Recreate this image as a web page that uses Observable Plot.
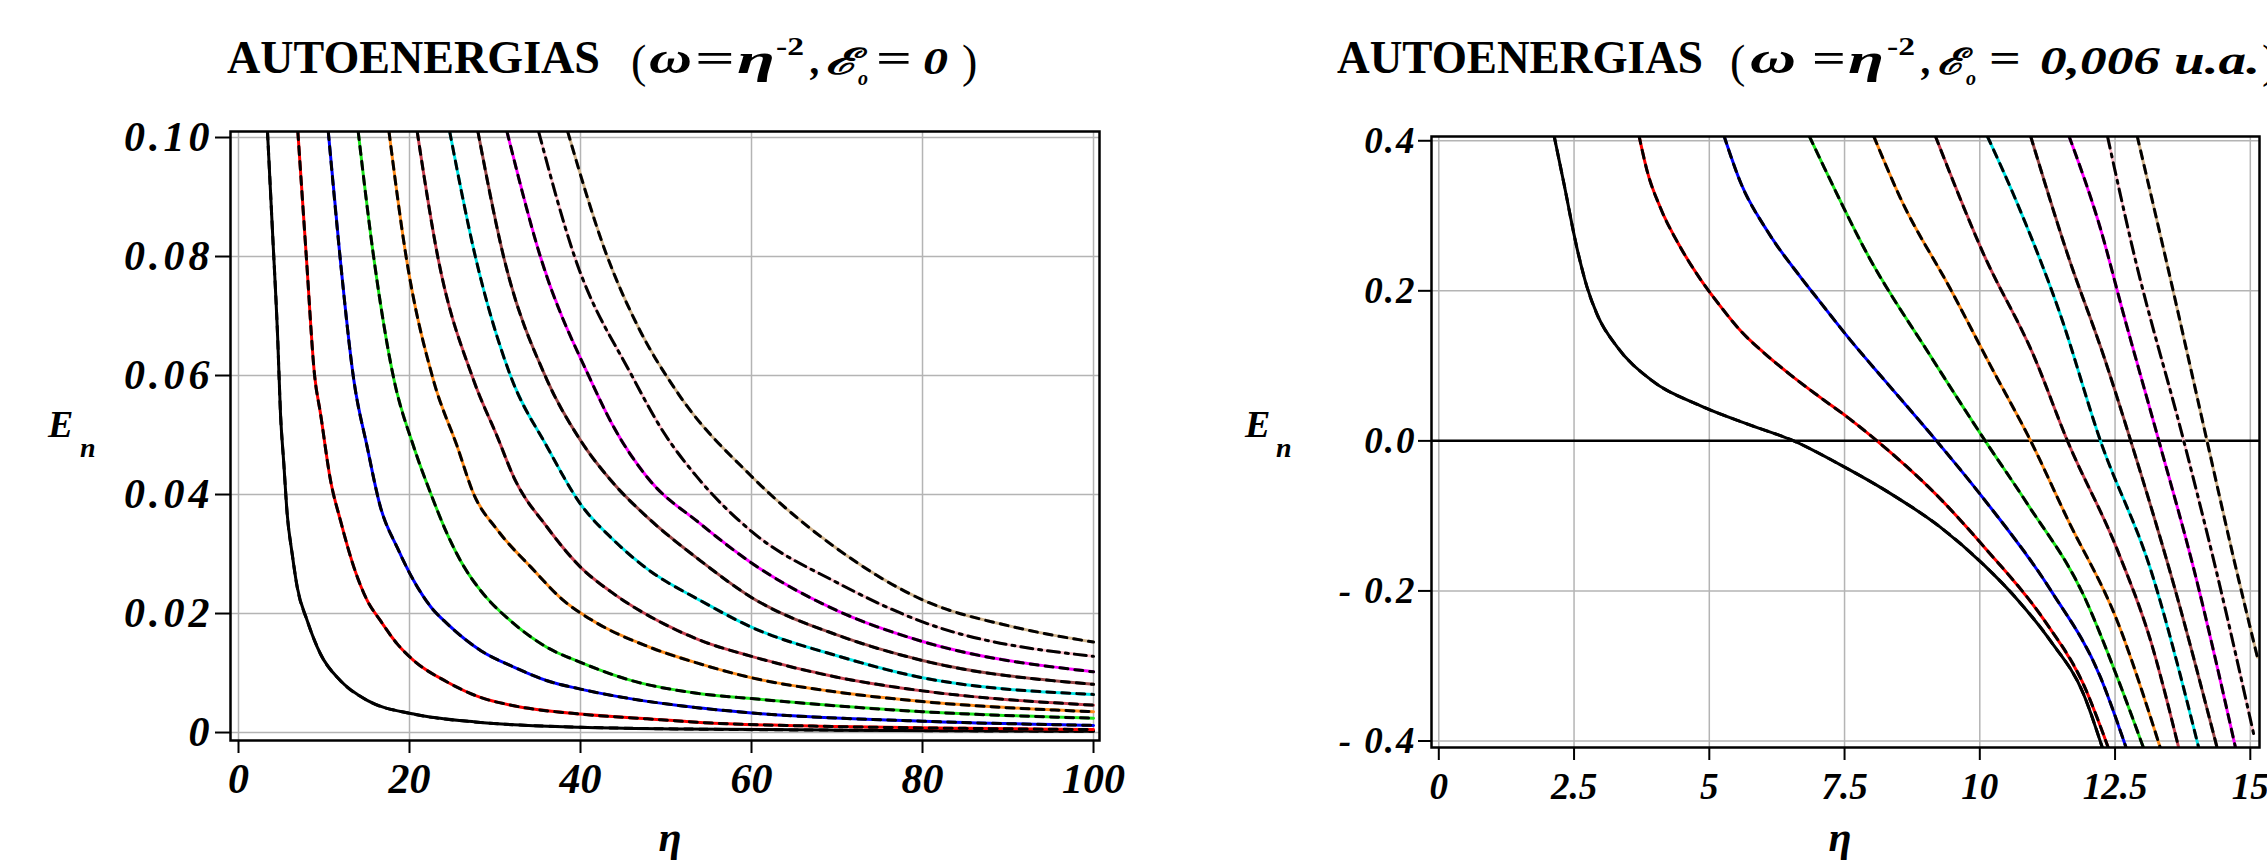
<!DOCTYPE html>
<html>
<head>
<meta charset="utf-8">
<script src="https://cdn.jsdelivr.net/npm/d3@7"></script>
<script src="https://cdn.jsdelivr.net/npm/@observablehq/plot@0.6"></script>
<style>
  html, body { margin: 0; padding: 0; background: #ffffff; }
  #page { position: relative; width: 2267px; height: 863px; overflow: hidden; background: #ffffff; }
  #page > svg { position: absolute; top: 0; }
</style>
</head>
<body>
<div id="page"></div>
<script>
// ---------------- DATA ----------------
// Left panel: E_n vs eta, omega = eta^-2, field = 0
const leftXTicks  = [0, 20, 40, 60, 80, 100];
const leftXLabels = ["0", "20", "40", "60", "80", "100"];
const leftYTicks  = [0, 0.02, 0.04, 0.06, 0.08, 0.10];
const leftYLabels = ["0", "0.02", "0.04", "0.06", "0.08", "0.10"];

const leftN1  = [[3.39,0.101],[3.99,0.0838],[4.58,0.0664],[4.91,0.0536],[5.30,0.0452],[5.69,0.0368],[6.28,0.030],[6.87,0.0244],[8.04,0.0188],[9.59,0.0132],[11.93,0.0087],[15.05,0.0054],[20.5,0.0031],[28.3,0.0017],[40,0.0009],[51.7,0.0006],[70,0.0004],[100,0.0002]];
const leftN2  = [[6.94,0.101],[7.93,0.08],[8.9,0.06],[9.59,0.0536],[10.76,0.0424],[11.93,0.0356],[13.49,0.0278],[15.05,0.0222],[16.6,0.0188],[18.56,0.0149],[20.5,0.0121],[24.4,0.0085],[28.3,0.0059],[32.2,0.0045],[40,0.0031],[47.8,0.0023],[54,0.0017],[70,0.0010],[85,0.0007],[100,0.0005]];
const leftN3  = [[10.5,0.101],[11.87,0.08],[13.49,0.0592],[15.05,0.048],[16.6,0.0379],[18.56,0.0311],[20.5,0.0255],[22.5,0.0211],[24.4,0.0183],[28.3,0.0138],[32.2,0.011],[36.1,0.0087],[40,0.0073],[45.8,0.0057],[51.7,0.0045],[60,0.0033],[80,0.0019],[100,0.0012]];
const leftN4  = [[14.0,0.101],[15.8,0.08],[18.2,0.0592],[20.5,0.048],[22.5,0.0401],[24.4,0.0334],[26.4,0.0278],[28.3,0.0239],[32.2,0.0183],[36.1,0.0143],[40,0.0118],[45.8,0.0088],[53.6,0.0066],[60,0.0057],[80,0.0035],[100,0.0024]];
const leftN5  = [[17.6,0.101],[19.6,0.08],[22.8,0.0592],[25.6,0.048],[27.5,0.0401],[30.3,0.034],[34.2,0.0278],[38,0.0222],[41.9,0.0184],[47.8,0.0145],[53.6,0.0117],[60,0.0092],[70,0.0068],[80,0.0052],[100,0.0035]];
const leftN6  = [[20.9,0.101],[23.3,0.08],[27.5,0.0592],[30.3,0.0496],[32.2,0.0429],[36.1,0.0345],[40,0.0278],[43.9,0.0233],[49.7,0.0183],[54,0.0155],[60,0.0128],[70,0.0093],[80,0.0070],[100,0.0046]];
const leftN7  = [[24.7,0.101],[27.7,0.08],[31.8,0.06],[36.1,0.048],[40,0.0384],[43.9,0.0323],[47.8,0.0275],[54,0.0222],[60,0.0177],[70,0.0129],[80,0.0092],[100,0.0064]];
const leftN8  = [[28.0,0.101],[31.0,0.08],[36.1,0.0592],[40,0.0491],[43.9,0.0418],[47.8,0.0362],[54,0.0289],[60,0.0227],[70,0.0164],[80,0.0121],[100,0.0081]];
const leftN9  = [[31.4,0.101],[35.3,0.08],[41.2,0.0592],[43.9,0.0513],[47.8,0.0429],[54,0.0351],[60,0.0285],[70,0.0205],[80,0.0153],[100,0.0102]];
const leftN10 = [[35.1,0.101],[39.3,0.08],[46.0,0.06],[49.7,0.0505],[53.6,0.043],[60,0.0338],[70,0.0252],[80,0.0186],[100,0.0128]];
const leftN11 = [[38.5,0.101],[43.1,0.0801],[46.8,0.068],[51.5,0.0568],[59.9,0.0432],[69.9,0.031],[80,0.0223],[90.8,0.0177],[100,0.0152]];

// Right panel: E_n vs eta, omega = eta^-2, field = 0,006 u.a.
const rightXTicks  = [0, 2.5, 5, 7.5, 10, 12.5, 15];
const rightXLabels = ["0", "2.5", "5", "7.5", "10", "12.5", "15"];
const rightYTicks  = [-0.4, -0.2, 0, 0.2, 0.4];
const rightYLabels = ["- 0.4", "- 0.2", "0.0", "0.2", "0.4"];

const rightN1  = [[2.13,0.407],[2.31,0.344],[2.56,0.255],[2.74,0.205],[2.93,0.168],[3.30,0.125],[3.91,0.082],[4.83,0.047],[5.76,0.021],[6.56,0.0],[7.4,-0.031],[8.3,-0.068],[9.27,-0.115],[10.07,-0.165],[10.7,-0.212],[11.3,-0.266],[11.92,-0.338],[12.27,-0.41]];
const rightN2  = [[3.70,0.407],[3.85,0.36],[4.10,0.31],[4.45,0.26],[4.84,0.215],[5.2,0.18],[5.6,0.145],[6.0,0.118],[6.5,0.088],[7.05,0.058],[7.6,0.029],[8.1,0.0],[9.2,-0.072],[10.1,-0.143],[11.2,-0.24],[11.9,-0.322],[12.38,-0.41]];
const rightN3  = [[5.27,0.407],[5.58,0.344],[6.07,0.28],[6.69,0.218],[7.05,0.185],[7.6,0.135],[8.25,0.08],[9.2,0.0],[10.07,-0.077],[11.31,-0.199],[12.23,-0.315],[12.71,-0.41]];
const rightN4  = [[6.85,0.406],[7.12,0.365],[7.92,0.249],[9.09,0.113],[10.1,0.0],[10.88,-0.084],[11.92,-0.206],[12.54,-0.315],[13.03,-0.41]];
const rightN5  = [[8.04,0.406],[8.53,0.324],[9.46,0.202],[10.2,0.1],[10.94,0.0],[11.62,-0.104],[12.54,-0.240],[13.34,-0.41]];
const rightN6  = [[9.18,0.406],[10.07,0.249],[11.0,0.113],[11.62,0.0],[12.54,-0.145],[13.16,-0.267],[13.68,-0.41]];
const rightN7  = [[10.14,0.406],[10.69,0.317],[11.49,0.168],[12.23,0.0],[13.16,-0.172],[14.05,-0.41]];
const rightN8  = [[10.94,0.406],[11.62,0.249],[12.29,0.113],[12.79,0.0],[13.59,-0.193],[14.39,-0.41]];
const rightN9  = [[11.65,0.406],[12.23,0.283],[12.66,0.168],[13.31,0.0],[13.96,-0.172],[14.73,-0.41]];
const rightN10 = [[12.36,0.406],[12.85,0.249],[13.77,0.0],[14.39,-0.179],[15.06,-0.39]];
const rightN11 = [[12.91,0.406],[13.46,0.236],[14.20,0.0],[14.70,-0.159],[15.13,-0.288]];

const curveColors = ["#000000", "#ff0000", "#0000ff", "#1ee61e", "#ff8c1a", "#c8404f", "#00e5e5", "#9a4848", "#ff00ff", "#ffc0cb", "#d2b48c"];
const overlayDash = ["8,7", "8,7", "8,7", "8,7", "8,7", "8,7", "8,7", "8,7", "8,7", "12,6,3,6", "8,7"];

const leftCurves  = [leftN1, leftN2, leftN3, leftN4, leftN5, leftN6, leftN7, leftN8, leftN9, leftN10, leftN11];
const rightCurves = [rightN1, rightN2, rightN3, rightN4, rightN5, rightN6, rightN7, rightN8, rightN9, rightN10, rightN11];

// ---------------- CHARTS ----------------
const FONT = "'Liberation Serif', 'Times New Roman', serif";

function buildChart(cfg) {
  const xFmt = new Map(cfg.xTicks.map((t, i) => [t, cfg.xLabels[i]]));
  const yFmt = new Map(cfg.yTicks.map((t, i) => [t, cfg.yLabels[i]]));
  const marks = [
    Plot.gridX(cfg.xTicks, {stroke: "#b4b4b4", strokeOpacity: 1, strokeWidth: 1.5}),
    Plot.gridY(cfg.yTicks, {stroke: "#b4b4b4", strokeOpacity: 1, strokeWidth: 1.5})
  ];
  if (cfg.zeroLine) marks.push(Plot.ruleY([0], {stroke: "#000", strokeWidth: 2.5}));
  cfg.curves.forEach((c, i) => {
    marks.push(Plot.line(c, {x: d => d[0], y: d => d[1], stroke: curveColors[i], strokeWidth: 3, curve: "monotone-x", clip: true}));
    marks.push(Plot.line(c, {x: d => d[0], y: d => d[1], stroke: "#000", strokeWidth: 3, strokeDasharray: overlayDash[i], curve: "monotone-x", clip: true}));
  });
  marks.push(Plot.frame({stroke: "#000", strokeWidth: 2.5}));
  marks.push(Plot.axisX(cfg.xTicks, {
    anchor: "bottom", tickSize: 13, tickPadding: cfg.xPad, strokeWidth: 2,
    tickFormat: d => xFmt.get(d), label: null,
    fontSize: cfg.fontSize, fontWeight: "bold", fontStyle: "italic", fontFamily: FONT, fill: "#000"
  }));
  marks.push(Plot.axisY(cfg.yTicks, {
    anchor: "left", tickSize: cfg.yTick, tickPadding: 2, strokeWidth: 2,
    tickFormat: d => yFmt.get(d), label: null,
    fontSize: cfg.fontSize, fontWeight: "bold", fontStyle: "italic", fontFamily: FONT, fill: "#000"
  }));
  const svg = Plot.plot({
    width: cfg.width, height: 863,
    marginLeft: cfg.ml, marginRight: cfg.mr, marginTop: cfg.mt, marginBottom: cfg.mb,
    x: {domain: cfg.xDomain},
    y: {domain: cfg.yDomain},
    style: {background: "transparent", overflow: "visible", maxWidth: "none", fontFamily: FONT},
    marks
  });
  svg.style.left = cfg.left + "px";
  svg.querySelectorAll('[aria-label="y-axis tick label"] text').forEach(t => {
    t.setAttribute("letter-spacing", cfg.ySpacing + "px");
  });
  return svg;
}

const page = document.getElementById("page");

page.appendChild(buildChart({
  left: 0, width: 1130, ml: 230, mr: 31, mt: 131, mb: 123,
  xDomain: [-0.936, 100.70], yDomain: [-0.00134, 0.10101],
  xTicks: leftXTicks, xLabels: leftXLabels, yTicks: leftYTicks, yLabels: leftYLabels,
  curves: leftCurves, zeroLine: false, fontSize: 42, xPad: 10, yTick: 15, ySpacing: 4
}));

page.appendChild(buildChart({
  left: 1130, width: 1137, ml: 301, mr: 8, mt: 136, mb: 116,
  xDomain: [-0.135, 15.17], yDomain: [-0.4087, 0.4057],
  xTicks: rightXTicks, xLabels: rightXLabels, yTicks: rightYTicks, yLabels: rightYLabels,
  curves: rightCurves, zeroLine: true, fontSize: 37, xPad: 12, yTick: 13, ySpacing: 2
}));

// ---------------- TEXT OVERLAY (titles, axis names) ----------------
const NS = "http://www.w3.org/2000/svg";
const overlay = document.createElementNS(NS, "svg");
overlay.setAttribute("width", 2267);
overlay.setAttribute("height", 863);
overlay.style.left = "0px";
overlay.style.pointerEvents = "none";
page.appendChild(overlay);

function put(text, x, y, size, weight, style, len, anchor) {
  const t = document.createElementNS(NS, "text");
  t.setAttribute("x", x);
  t.setAttribute("y", y);
  t.setAttribute("font-family", FONT);
  t.setAttribute("font-size", size);
  t.setAttribute("font-weight", weight);
  t.setAttribute("font-style", style);
  t.setAttribute("fill", "#000");
  if (anchor) t.setAttribute("text-anchor", anchor);
  if (len) { t.setAttribute("textLength", len); t.setAttribute("lengthAdjust", "spacingAndGlyphs"); }
  t.textContent = text;
  overlay.appendChild(t);
}

// Left title
put("AUTOENERGIAS", 227, 73, 46, "bold", "normal", 373);
put("(", 631, 77, 46, "normal", "normal");
put("ω", 649, 73, 44, "bold", "italic", 43);
put("=", 695, 72, 40, "bold", "normal", 40);
put("η", 737, 73, 42, "bold", "italic", 38);
put("-2", 776, 55, 26, "bold", "normal", 28);
put(",", 811, 74, 40, "bold", "italic");
put("ℰ", 825, 74, 36, "bold", "italic", 33);
put("o", 858, 85, 22, "bold", "italic", 10);
put("=", 876, 72, 40, "bold", "normal", 36);
put("0", 923, 74, 38, "bold", "italic", 25);
put(")", 962, 77, 46, "normal", "normal");

// Right title
put("AUTOENERGIAS", 1337, 73, 46, "bold", "normal", 366);
put("(", 1730, 77, 46, "normal", "normal");
put("ω", 1750, 73, 44, "bold", "italic", 46);
put("=", 1812, 72, 40, "bold", "normal", 34);
put("η", 1848, 73, 42, "bold", "italic", 36);
put("-2", 1887, 55, 26, "bold", "normal", 28);
put(",", 1922, 74, 40, "bold", "italic");
put("ℰ", 1937, 74, 36, "bold", "italic", 28);
put("o", 1966, 85, 22, "bold", "italic", 10);
put("=", 1989, 72, 40, "bold", "normal", 32);
put("0,006", 2040, 74, 40, "bold", "italic", 120);
put("u.a.", 2174, 74, 40, "bold", "italic", 86);
put(")", 2262, 77, 46, "normal", "normal");

// Axis names
put("E", 48, 437, 38, "bold", "italic");
put("n", 80, 457, 28, "bold", "italic");
put("η", 670, 851, 42, "bold", "italic", null, "middle");

put("E", 1245, 437, 38, "bold", "italic");
put("n", 1276, 457, 28, "bold", "italic");
put("η", 1840, 851, 42, "bold", "italic", null, "middle");
</script>
</body>
</html>
